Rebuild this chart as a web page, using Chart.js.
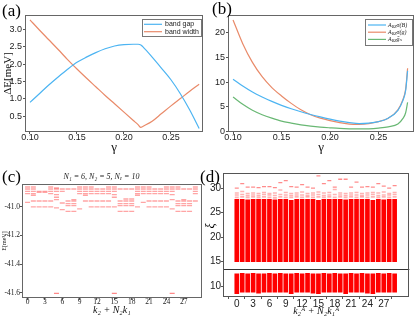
<!DOCTYPE html>
<html>
<head>
<meta charset="utf-8">
<script src="https://cdn.jsdelivr.net/npm/chart.js@4.4.1/dist/chart.umd.min.js"></script>
<style>
  html, body { margin: 0; padding: 0; background: #fff; }
  body { width: 415px; height: 320px; position: relative; overflow: hidden; }
  .panel { position: absolute; }
  .tag { position: absolute; font-family: "Liberation Serif", "DejaVu Serif", serif; font-size: 17px; line-height: 1; color: #000; }
  .xi { position: absolute; font-family: "Liberation Serif", serif; font-style: italic; font-size: 12px; line-height: 1; transform: rotate(-90deg); }
</style>
</head>
<body>
<div class="panel" style="left:0;top:0;width:207px;height:155px"><canvas id="chartA"></canvas></div>
<div class="panel" style="left:207px;top:0;width:208px;height:155px"><canvas id="chartB"></canvas></div>
<div class="panel" style="left:0;top:160px;width:207px;height:160px"><canvas id="chartC"></canvas></div>
<div class="panel" style="left:207px;top:160px;width:208px;height:160px"><canvas id="chartD"></canvas></div>
<div class="tag" style="left:2px;top:2px">(a)</div>
<div class="tag" style="left:212px;top:0px">(b)</div>
<div class="tag" style="left:2px;top:168px">(c)</div>
<div class="tag" style="left:200px;top:168px">(d)</div>
<div class="xi" style="left:207px;top:220px">ξ</div>
<script>
// (a) band gap / band width vs gamma
const gammaA = [0.10, 0.11, 0.12, 0.13, 0.14, 0.15, 0.16, 0.17, 0.18, 0.19, 0.20, 0.21, 0.215, 0.218, 0.22, 0.23, 0.24, 0.25, 0.26, 0.27, 0.28]
const bandGap = [0.90, 1.15, 1.40, 1.63, 1.85, 2.05, 2.20, 2.33, 2.44, 2.52, 2.56, 2.57, 2.57, 2.55, 2.50, 2.20, 1.88, 1.55, 1.15, 0.68, 0.15]
const bandWidth = [3.27, 2.98, 2.70, 2.42, 2.13, 1.86, 1.60, 1.35, 1.10, 0.86, 0.62, 0.38, 0.26, 0.18, 0.21, 0.36, 0.58, 0.80, 1.01, 1.22, 1.42]
const aXTicks = [0.10, 0.15, 0.20, 0.25]
const aYTicks = [0.5, 1.0, 1.5, 2.0, 2.5, 3.0]

// (b) quantum geometry indicators vs gamma
const gammaB = [0.10, 0.11, 0.12, 0.13, 0.14, 0.15, 0.16, 0.17, 0.18, 0.19, 0.20, 0.21, 0.22, 0.23, 0.24, 0.25, 0.26, 0.27, 0.275, 0.278, 0.28]
const sigmaBerry = [10.6, 9.2, 8.0, 7.0, 6.1, 5.3, 4.6, 4.0, 3.45, 2.95, 2.5, 2.1, 1.8, 1.6, 1.7, 2.0, 2.7, 4.3, 6.2, 8.3, 12.3]
const sigmaMetric = [22.6, 17.8, 14.0, 11.1, 8.9, 7.2, 5.7, 4.4, 3.4, 2.7, 2.2, 1.8, 1.5, 1.45, 1.6, 2.0, 2.7, 4.4, 6.4, 8.6, 12.8]
const traceGap = [7.0, 5.5, 4.3, 3.4, 2.7, 2.1, 1.7, 1.35, 1.1, 0.9, 0.75, 0.62, 0.55, 0.52, 0.55, 0.7, 0.95, 1.5, 2.6, 3.8, 5.9]
const bLegendTails = ["σ(B)", "σ(g)", "ḡₙ"]
const bYTicks = [0, 5, 10, 15, 20]

// (c) ED spectrum, energies in meV per momentum sector
const cKs = [0, 1, 2, 3, 4, 5, 6, 7, 8, 9, 10, 11, 12, 13, 14, 15, 16, 17, 18, 19, 20, 21, 22, 23, 24, 25, 26, 27, 28, 29]
const cLevels = [
  [-40.860, -40.874, -40.890, -40.907, -40.968],
  [-40.860, -40.874, -40.890, -40.907, -40.918, -40.958, -41.000],
  [-40.890, -40.897, -40.958, -41.000],
  [-40.890, -40.897, -40.958, -41.000],
  [-40.860, -40.874, -40.890, -40.907, -40.958, -41.000],
  [-40.867, -40.874, -40.890, -40.914, -40.932, -40.949, -41.007],
  [-40.874, -40.890, -40.972, -41.019],
  [-40.874, -40.958, -40.977, -40.991, -41.031],
  [-40.874, -40.949, -40.958, -40.977, -40.991, -41.031],
  [-40.860, -40.874, -40.890, -40.907, -41.014],
  [-40.860, -40.874, -40.890, -40.907, -40.918, -40.958],
  [-40.860, -40.874, -40.890, -40.907, -40.958, -41.000],
  [-40.874, -40.890, -40.907, -40.958, -41.000],
  [-40.874, -40.890, -40.907, -40.958, -41.000],
  [-40.860, -40.874, -40.890, -40.907, -40.958, -41.000],
  [-40.860, -40.874, -40.890, -40.914, -40.932, -41.000],
  [-40.874, -40.958, -40.977, -40.991, -41.031],
  [-40.874, -40.944, -40.958, -40.977, -40.991, -41.031],
  [-40.874, -40.944, -40.958, -40.977, -40.991, -41.031],
  [-40.860, -40.874, -40.890, -40.907, -40.918, -41.000],
  [-40.860, -40.874, -40.890, -40.907, -40.968],
  [-40.860, -40.874, -40.890, -40.907, -40.958, -41.000],
  [-40.874, -40.890, -40.907, -40.958, -41.000],
  [-40.874, -40.890, -40.907, -40.958, -41.000],
  [-40.860, -40.874, -40.890, -40.907, -40.958, -41.000],
  [-40.860, -40.874, -40.890, -40.914, -40.949, -41.014],
  [-40.860, -40.874, -40.958, -40.977, -40.991, -41.031],
  [-40.874, -40.949, -40.958, -40.977, -40.991, -41.031],
  [-40.874, -40.958, -40.977, -40.991, -41.031],
  [-40.860, -40.874, -40.890, -40.907, -40.958]
]
const cGroundKs = [5, 15, 25]
const cGroundE = [-41.605, -41.605, -41.605]
const cXTicks = [0, 3, 6, 9, 12, 15, 18, 21, 24, 27]
const cYTicks = [-41.6, -41.4, -41.2, -41.0]

// (d) entanglement spectrum per momentum sector
const dKs = cKs
const dUpperLow = [15.0, 15.0, 15.0, 15.0, 15.0, 15.0, 15.0, 15.0, 15.0, 15.0, 15.0, 15.0, 15.0, 15.0, 15.0, 15.0, 15.0, 15.0, 15.0, 15.0, 15.0, 15.0, 15.0, 15.0, 15.0, 15.0, 15.0, 15.0, 15.0, 15.0]
const dUpperTop = [27.7, 27.7, 27.6, 27.7, 27.7, 27.7, 27.7, 27.6, 27.7, 27.7, 27.5, 27.7, 27.7, 27.7, 27.7, 27.5, 27.7, 27.7, 27.7, 27.7, 27.6, 27.7, 27.7, 27.7, 27.7, 27.5, 27.7, 27.6, 27.7, 27.7]
const dLowerLow = [8.5, 8.8, 8.8, 8.8, 8.6, 8.8, 8.8, 8.8, 8.8, 8.8, 8.5, 8.8, 8.8, 8.8, 8.6, 8.5, 8.8, 8.8, 8.8, 8.8, 8.5, 8.8, 8.8, 8.8, 8.6, 8.5, 8.8, 8.8, 8.8, 8.8]
const dLowerTop = [12.5, 12.6, 12.5, 12.6, 12.5, 12.5, 12.6, 12.5, 12.6, 12.5, 12.5, 12.6, 12.5, 12.6, 12.5, 12.5, 12.6, 12.5, 12.6, 12.5, 12.5, 12.6, 12.5, 12.6, 12.5, 12.5, 12.6, 12.5, 12.6, 12.5]
const dFade = [
  [28.1, 28.6, 29.0], [28.2, 28.7, 29.3], [28.1, 28.5, 28.9], [28.2, 28.6, 29.0], [28.1, 28.5, 28.9],
  [28.2, 28.7, 29.1], [28.1, 28.6, 28.9], [28.0, 28.5, 29.0], [28.2, 28.7, 29.6], [28.1, 28.6, 29.1],
  [28.1, 28.5, 28.9], [28.2, 28.6, 29.0], [28.1, 28.6, 29.2], [28.2, 28.5, 28.9], [28.1, 28.6, 29.0],
  [28.2, 28.7, 29.2], [28.1, 28.5, 29.0], [28.2, 28.6, 29.1], [28.1, 28.7, 29.7], [28.2, 28.6, 29.0],
  [28.1, 28.5, 28.9], [28.2, 28.6, 29.0], [28.1, 28.6, 29.1], [28.2, 28.5, 28.9], [28.1, 28.6, 29.0],
  [28.2, 28.7, 29.1], [28.1, 28.5, 29.0], [28.2, 28.6, 29.2], [28.1, 28.6, 28.9], [28.2, 28.7, 29.1]
]
const dOutliers = [30.0, 30.9, 30.2, 30.2, 30.1, 30.3, 30.3, 30.1, 31.1, 31.5, 30.3, 30.2, 30.7, 30.2, 30.0, 32.5, 30.9, 31.5, 30.2, 31.8, 31.8, 30.2, 31.2, 30.2, 30.3, 30.2, 30.9, 30.4, 30.0, 30.5]
const dGap = 13.6
const dYTicks = [10, 15, 20, 25, 30]

const serif = "'Liberation Serif', 'DejaVu Serif', serif"
const sans = "'Liberation Sans Narrow', 'Liberation Sans', sans-serif"
const blue = "#4cb4f2"
const orange = "#e98a69"
const green = "#69b874"

const framePlugin = {
  id: "frame",
  afterDraw(chart, args, opts) {
    const { ctx, chartArea: a } = chart
    ctx.save()
    ctx.strokeStyle = opts.color || "#666"
    ctx.lineWidth = 1
    ctx.strokeRect(Math.round(a.left) + 0.5, Math.round(a.top) + 0.5, Math.round(a.right - a.left) - 1, Math.round(a.bottom - a.top) - 1)
    ctx.restore()
  }
}

// legend box drawn in the top right corner of the plot area
const boxLegend = {
  id: "boxLegend",
  afterDraw(chart, args, opts) {
    if (!opts.items) return
    const { ctx, chartArea: a } = chart
    const x0 = a.right - 1 - opts.width
    const y0 = a.top + 4
    ctx.save()
    ctx.fillStyle = "#fff"
    ctx.strokeStyle = "#777"
    ctx.lineWidth = 1
    ctx.fillRect(x0, y0, opts.width, opts.height)
    ctx.strokeRect(x0 + 0.5, y0 + 0.5, opts.width - 1, opts.height - 1)
    ctx.textBaseline = "middle"
    opts.items.forEach((item, i) => {
      const y = y0 + opts.first + i * opts.step
      ctx.strokeStyle = item.color
      ctx.lineWidth = 1.2
      ctx.beginPath()
      ctx.moveTo(x0 + opts.lineFrom, y)
      ctx.lineTo(x0 + opts.lineTo, y)
      ctx.stroke()
      ctx.fillStyle = "#222"
      let x = x0 + opts.textAt
      item.parts.forEach((p) => {
        const size = p.sub ? opts.size * 0.7 : opts.size
        ctx.font = (p.italic ? "italic " : "") + size + "px " + opts.family
        ctx.fillText(p.t, x, p.sub ? y + opts.size * 0.3 : y)
        x += ctx.measureText(p.t).width
      })
    })
    ctx.restore()
  }
}

const gapLine = {
  id: "gapLine",
  afterDatasetsDraw(chart, args, opts) {
    if (opts.value === undefined) return
    const { ctx, chartArea: a, scales } = chart
    const y = Math.round(scales.y.getPixelForValue(opts.value)) + 0.5
    ctx.save()
    ctx.strokeStyle = "#333"
    ctx.lineWidth = 1
    ctx.beginPath()
    ctx.moveTo(a.left, y)
    ctx.lineTo(a.right, y)
    ctx.stroke()
    ctx.restore()
  }
}

Chart.register(framePlugin, boxLegend, gapLine)

function axis(o) {
  return {
    type: "linear",
    min: o.min,
    max: o.max,
    afterBuildTicks: (s) => { s.ticks = o.ticks.map((v) => ({ value: v })) },
    afterFit: (s) => { if (s.isHorizontal()) s.height = o.size; else s.width = o.size },
    grid: { drawOnChartArea: false, tickLength: o.tickLength, color: "#555" },
    border: { display: false },
    ticks: { font: o.font, color: "#222", padding: o.pad, callback: o.fmt, maxRotation: 0, autoSkip: false },
    title: o.title || { display: false }
  }
}

function baseOptions(padding) {
  return {
    responsive: true,
    maintainAspectRatio: false,
    devicePixelRatio: 1,
    animation: false,
    events: [],
    layout: { padding: padding },
    plugins: { legend: { display: false }, tooltip: { enabled: false } }
  }
}

function points(xs, ys) {
  return xs.map((x, i) => ({ x: x, y: ys[i] }))
}

function lineSet(xs, ys, color) {
  return { data: points(xs, ys), borderColor: color, borderWidth: 1.2, pointRadius: 0, cubicInterpolationMode: "monotone", fill: false }
}

const tickSans = { family: sans, size: 9, lineHeight: 1 }

// (a)
const optA = baseOptions({ top: 15, right: 4, left: 0, bottom: 0 })
optA.scales = {
  x: axis({ min: 0.0947, max: 0.2841, ticks: aXTicks, size: 23, tickLength: 2, pad: -1, font: tickSans, fmt: (v) => v.toFixed(2),
    title: { display: true, text: "γ", font: { family: serif, size: 13, lineHeight: 1.2 }, color: "#111", padding: { top: 0, bottom: 0 } } }),
  y: axis({ min: 0.05, max: 3.41, ticks: aYTicks, size: 25, tickLength: 2, pad: 1, font: tickSans, fmt: (v) => v.toFixed(1),
    title: { display: true, text: "ΔE[meV]", font: { family: serif, size: 11, lineHeight: 1.2 }, color: "#111", padding: { top: 2, bottom: 0 } } })
}
optA.plugins.boxLegend = {
  width: 60, height: 18, first: 5.3, step: 7.4, lineFrom: 2, lineTo: 20, textAt: 23, size: 7, family: "'Liberation Sans', sans-serif",
  items: [
    { color: blue, parts: [{ t: "band gap" }] },
    { color: orange, parts: [{ t: "band width" }] }
  ]
}
new Chart(document.getElementById("chartA"), {
  type: "line",
  data: { datasets: [lineSet(gammaA, bandGap, blue), lineSet(gammaA, bandWidth, orange)] },
  options: optA
})

// (b)
const optB = baseOptions({ top: 15, right: 1, left: 0, bottom: 0 })
optB.scales = {
  x: axis({ min: 0.0948, max: 0.2866, ticks: aXTicks, size: 23, tickLength: 2, pad: -1, font: tickSans, fmt: (v) => v.toFixed(2),
    title: { display: true, text: "γ", font: { family: serif, size: 13, lineHeight: 1.2 }, color: "#111", padding: { top: 0, bottom: 0 } } }),
  y: axis({ min: -0.1, max: 23.6, ticks: bYTicks, size: 21, tickLength: 2, pad: 1, font: tickSans, fmt: (v) => String(v) })
}
optB.plugins.boxLegend = {
  width: 48, height: 27, first: 6, step: 7.2, lineFrom: 3, lineTo: 21, textAt: 23, size: 6, family: serif,
  items: [blue, orange, green].map((c, i) => ({
    color: c,
    parts: [{ t: "A", italic: true }, { t: "BZ", sub: true, italic: true }, { t: bLegendTails[i], italic: true }]
  }))
}
new Chart(document.getElementById("chartB"), {
  type: "line",
  data: { datasets: [lineSet(gammaB, sigmaBerry, blue), lineSet(gammaB, sigmaMetric, orange), lineSet(gammaB, traceGap, green)] },
  options: optB
})

// (c)
const tickSerif = { family: serif, size: 7.5, lineHeight: 1 }
const optC = baseOptions({ top: 0, right: 4, left: 0, bottom: 0 })
optC.plugins.title = {
  display: true, text: "N₁ = 6, N₂ = 5, Nₑ = 10", color: "#222",
  font: { family: serif, size: 8, style: "italic", weight: "normal", lineHeight: 1.2 }, padding: { top: 12, bottom: 2.4 }
}
optC.plugins.frame = { color: "#666" }
optC.scales = {
  x: axis({ min: -0.96, max: 30.1, ticks: cXTicks, size: 22, tickLength: 2, pad: -2, font: tickSerif, fmt: (v) => String(v),
    title: { display: true, text: "k₂ + N₂k₁", font: { family: serif, size: 10, style: "italic", lineHeight: 1.2 }, color: "#111", padding: { top: 0, bottom: 4 } } }),
  y: axis({ min: -41.638, max: -40.839, ticks: cYTicks, size: 22, tickLength: 2, pad: 0, font: tickSerif, fmt: (v) => v.toFixed(1),
    title: { display: true, text: "E[meV]", font: { family: serif, size: 6, lineHeight: 1.2 }, color: "#111", padding: { top: 1, bottom: 0 } } })
}
const levelPoints = []
cKs.forEach((k, i) => cLevels[i].forEach((e) => levelPoints.push({ x: k, y: e })))
const dashStyle = (color, r, w) => ({ showLine: false, pointStyle: "line", pointRadius: r, pointBorderWidth: w, pointBorderColor: color, pointBackgroundColor: color })
new Chart(document.getElementById("chartC"), {
  type: "scatter",
  data: {
    datasets: [
      Object.assign({ data: levelPoints }, dashStyle("rgba(255,40,40,0.42)", 2.5, 1.3)),
      Object.assign({ data: points(cGroundKs, cGroundE) }, dashStyle("rgba(255,40,40,0.55)", 2.5, 1.3))
    ]
  },
  options: optC
})

// (d)
const tickSansD = { family: sans, size: 10, lineHeight: 1 }
const optD = baseOptions({ top: 13, right: 3, left: 0, bottom: 0 })
optD.plugins.gapLine = { value: dGap }
optD.plugins.frame = { color: "#555" }
optD.scales = {
  x: axis({ min: -0.82, max: 30.0, ticks: cXTicks, size: 23, tickLength: 2, pad: 0, font: tickSansD, fmt: (v) => String(v),
    title: { display: true, text: "k₂ᴬ + N₂k₁ᴬ", font: { family: serif, size: 10, style: "italic", lineHeight: 1.2 }, color: "#111", padding: { top: 0, bottom: 3 } } }),
  y: axis({ min: 7.8, max: 33.07, ticks: dYTicks, size: 16, tickLength: 2, pad: 0, font: tickSansD, fmt: (v) => String(v) })
}
const fadePoints = []
dKs.forEach((k, i) => dFade[i].forEach((v) => fadePoints.push({ x: k, y: v })))
new Chart(document.getElementById("chartD"), {
  type: "bar",
  data: {
    datasets: [
      Object.assign({ type: "scatter", data: points(dKs, dOutliers) }, dashStyle("rgba(255,0,0,0.45)", 2, 1.3)),
      Object.assign({ type: "scatter", data: fadePoints }, dashStyle("rgba(255,0,0,0.3)", 2, 1.6)),
      { type: "bar", data: dKs.map((k, i) => ({ x: k, y: [dUpperLow[i], dUpperTop[i]] })), backgroundColor: "#ff0000", borderWidth: 0, barThickness: 4, grouped: false },
      { type: "bar", data: dKs.map((k, i) => ({ x: k, y: [dLowerLow[i], dLowerTop[i]] })), backgroundColor: "#ff0000", borderWidth: 0, barThickness: 4, grouped: false }
    ]
  },
  options: optD
})
</script>
</body>
</html>
